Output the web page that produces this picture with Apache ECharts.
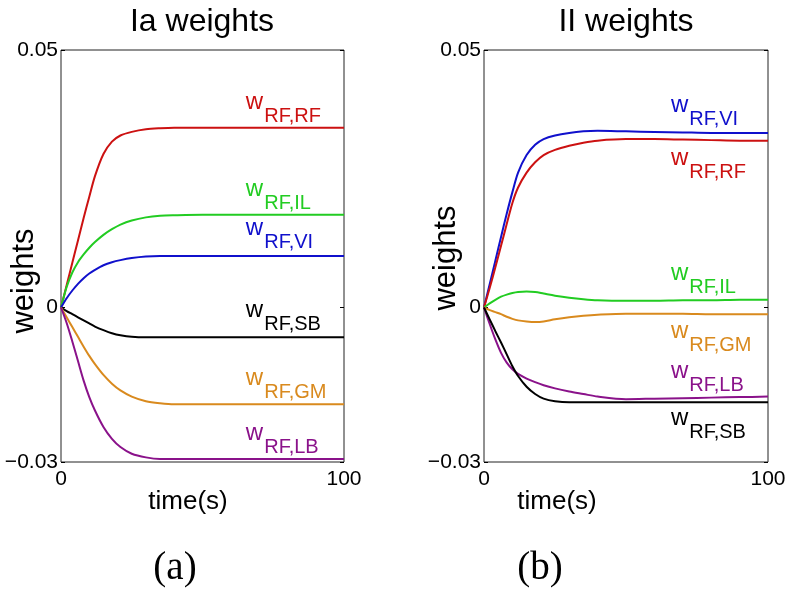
<!DOCTYPE html>
<html>
<head>
<meta charset="utf-8">
<script src="https://cdn.jsdelivr.net/npm/echarts@6/dist/echarts.min.js"></script>
<style>
  html, body { margin: 0; padding: 0; background: #fff; }
  #chart { width: 794px; height: 598px; }
</style>
</head>
<body>
<div id="chart"></div>
<script>
// time axis (s)
const times = [0, 2, 4, 6, 8, 10, 12, 15, 18, 21, 25, 30, 35, 40, 50, 60, 70, 80, 90, 100];

// (a) Ia weights
const iaRF = [0, 0.0043, 0.0087, 0.0130, 0.0174, 0.0215, 0.0255, 0.0298, 0.0322, 0.0334, 0.0341, 0.0346, 0.0348, 0.0349, 0.0349, 0.0349, 0.0349, 0.0349, 0.0349, 0.0349];
const iaIL = [0, 0.0040, 0.0068, 0.0088, 0.0103, 0.0116, 0.0127, 0.0141, 0.0152, 0.0161, 0.0169, 0.0175, 0.0178, 0.0179, 0.0180, 0.0180, 0.0180, 0.0180, 0.0180, 0.0180];
const iaVI = [0, 0.0018, 0.0033, 0.0046, 0.0057, 0.0066, 0.0073, 0.0082, 0.0088, 0.0092, 0.0096, 0.0099, 0.0100, 0.0100, 0.0100, 0.0100, 0.0100, 0.0100, 0.0100, 0.0100];
const iaSB = [0, -0.0007, -0.0013, -0.0019, -0.0025, -0.0031, -0.0037, -0.0044, -0.0050, -0.0054, -0.0057, -0.0058, -0.0058, -0.0058, -0.0058, -0.0058, -0.0058, -0.0058, -0.0058, -0.0058];
const iaGM = [0, -0.0019, -0.0038, -0.0057, -0.0076, -0.0094, -0.0110, -0.0131, -0.0148, -0.0161, -0.0173, -0.0182, -0.0186, -0.0188, -0.0188, -0.0188, -0.0188, -0.0188, -0.0188, -0.0188];
const iaLB = [0, -0.0030, -0.0066, -0.0104, -0.0142, -0.0174, -0.0200, -0.0232, -0.0255, -0.0271, -0.0284, -0.0291, -0.0294, -0.0294, -0.0294, -0.0294, -0.0294, -0.0294, -0.0294, -0.0294];

// (b) II weights
const iiVI = [0, 0.0045, 0.0091, 0.0137, 0.0182, 0.0224, 0.0262, 0.0296, 0.0316, 0.0327, 0.0334, 0.0339, 0.0342, 0.0343, 0.0342, 0.0341, 0.0340, 0.0339, 0.0339, 0.0339];
const iiRF = [0, 0.0038, 0.0078, 0.0120, 0.0162, 0.0203, 0.0233, 0.0262, 0.0282, 0.0296, 0.0306, 0.0314, 0.0320, 0.0324, 0.0327, 0.0327, 0.0326, 0.0325, 0.0324, 0.0324];
const iiIL = [0, 0.0008, 0.0015, 0.0021, 0.0025, 0.0028, 0.0030, 0.0031, 0.0030, 0.0027, 0.0023, 0.0019, 0.0016, 0.0014, 0.0013, 0.0013, 0.0014, 0.0014, 0.0015, 0.0015];
const iiGM = [0, -0.0005, -0.0009, -0.0013, -0.0018, -0.0022, -0.0025, -0.0027, -0.0028, -0.0027, -0.0023, -0.0019, -0.0016, -0.0014, -0.0012, -0.0012, -0.0012, -0.0013, -0.0013, -0.0013];
const iiLB = [0, -0.0032, -0.0062, -0.0088, -0.0107, -0.0120, -0.0129, -0.0138, -0.0145, -0.0151, -0.0157, -0.0163, -0.0168, -0.0173, -0.0178, -0.0177, -0.0176, -0.0175, -0.0174, -0.0173];
const iiSB = [0, -0.0023, -0.0046, -0.0068, -0.0091, -0.0114, -0.0133, -0.0154, -0.0168, -0.0177, -0.0182, -0.0184, -0.0184, -0.0184, -0.0184, -0.0184, -0.0184, -0.0184, -0.0184, -0.0184];

const yTicks = [-0.03, 0, 0.05];
const xTicks = [0, 100];

const colors = {
  RF: '#cc1111', IL: '#22cc22', VI: '#1010cc', SB: '#000000', GM: '#d98a1e', LB: '#8a128a'
};

// [name, values, label anchor (time, weight)]
const panelA = [
  ['RF', iaRF, [65.5, 0.0420]],
  ['IL', iaIL, [65.5, 0.0252]],
  ['VI', iaVI, [65.5, 0.0176]],
  ['SB', iaSB, [65.5, 0.0017]],
  ['GM', iaGM, [65.5, -0.0115]],
  ['LB', iaLB, [65.5, -0.0222]]
];
const panelB = [
  ['VI', iiVI, [66, 0.0415]],
  ['RF', iiRF, [66, 0.0312]],
  ['IL', iiIL, [66, 0.0088]],
  ['GM', iiGM, [66, -0.0024]],
  ['LB', iiLB, [66, -0.0102]],
  ['SB', iiSB, [66, -0.0193]]
];

const sans = 'Liberation Sans, Arial, sans-serif';
const serif = 'Liberation Serif, Times New Roman, serif';

function makeSeries(panel, axisIdx) {
  return panel.map(([name, vals, at]) => ({
    type: 'line',
    name: 'RF,' + name,
    xAxisIndex: axisIdx,
    yAxisIndex: axisIdx * 2,
    data: times.map((t, i) => [t, vals[i]]),
    showSymbol: false,
    smooth: 0.3,
    lineStyle: { color: colors[name], width: 2 },
    itemStyle: { color: colors[name] },
    markPoint: {
      silent: true,
      symbol: 'circle',
      symbolSize: 1,
      itemStyle: { color: 'rgba(0,0,0,0)' },
      label: {
        show: true,
        position: [0, 0],
        align: 'left',
        verticalAlign: 'top',
        formatter: '{w|w}{s|RF,' + name + '}',
        rich: {
          w: { fontFamily: sans, fontSize: 24, color: colors[name], padding: [0, 1, 14, 0] },
          s: { fontFamily: sans, fontSize: 20, color: colors[name], padding: [14, 0, 0, 0] }
        }
      },
      data: [{ coord: at }]
    }
  }));
}

function xAxisFor(gridIndex) {
  return {
    type: 'value', gridIndex, min: 0, max: 100,
    axisLine: { show: false },
    splitLine: { show: false },
    axisTick: { show: false },
    axisLabel: { customValues: xTicks, fontFamily: sans, fontSize: 21, color: '#000', margin: 7 }
  };
}

function yAxesFor(gridIndex) {
  const fmt = v => v === 0 ? '0' : (v < 0 ? '\u2212' : '') + Math.abs(v).toFixed(2);
  return [{
    type: 'value', gridIndex, min: -0.03, max: 0.05, position: 'left',
    axisLine: { show: false },
    splitLine: { show: false },
    axisTick: { show: true, inside: true, length: 4, customValues: yTicks, lineStyle: { color: '#000' } },
    axisLabel: { customValues: yTicks, formatter: fmt, fontFamily: sans, fontSize: 21, color: '#000', margin: 3 }
  }, {
    type: 'value', gridIndex, min: -0.03, max: 0.05, position: 'right',
    axisLine: { show: false },
    splitLine: { show: false },
    axisTick: { show: true, inside: true, length: 4, customValues: yTicks, lineStyle: { color: '#000' } },
    axisLabel: { show: false }
  }];
}

function txt(x, y, text, size, family, rot) {
  return {
    type: 'text', x, y, rotation: rot || 0,
    style: { text, fontSize: size, fontFamily: family || sans, fill: '#000', align: 'center', verticalAlign: 'middle' }
  };
}

const chart = echarts.init(document.getElementById('chart'), null, { renderer: 'canvas' });
chart.setOption({
  animation: false,
  backgroundColor: '#fff',
  grid: [
    { left: 61, top: 50, width: 283, height: 412, show: true, borderColor: '#222', borderWidth: 1, backgroundColor: 'transparent' },
    { left: 484, top: 50, width: 284, height: 412, show: true, borderColor: '#222', borderWidth: 1, backgroundColor: 'transparent' }
  ],
  xAxis: [xAxisFor(0), xAxisFor(1)],
  yAxis: [...yAxesFor(0), ...yAxesFor(1)],
  series: [...makeSeries(panelA, 0), ...makeSeries(panelB, 1)],
  graphic: [
    txt(202, 22, 'Ia weights', 32),
    txt(626, 22, 'II weights', 32),
    txt(24, 281, 'weights', 31, sans, Math.PI / 2),
    txt(446, 258, 'weights', 31, sans, Math.PI / 2),
    txt(188, 502, 'time(s)', 26),
    txt(557, 502, 'time(s)', 26),
    txt(175, 569, '(a)', 39, serif),
    txt(540, 569, '(b)', 39, serif)
  ]
});
</script>
</body>
</html>
